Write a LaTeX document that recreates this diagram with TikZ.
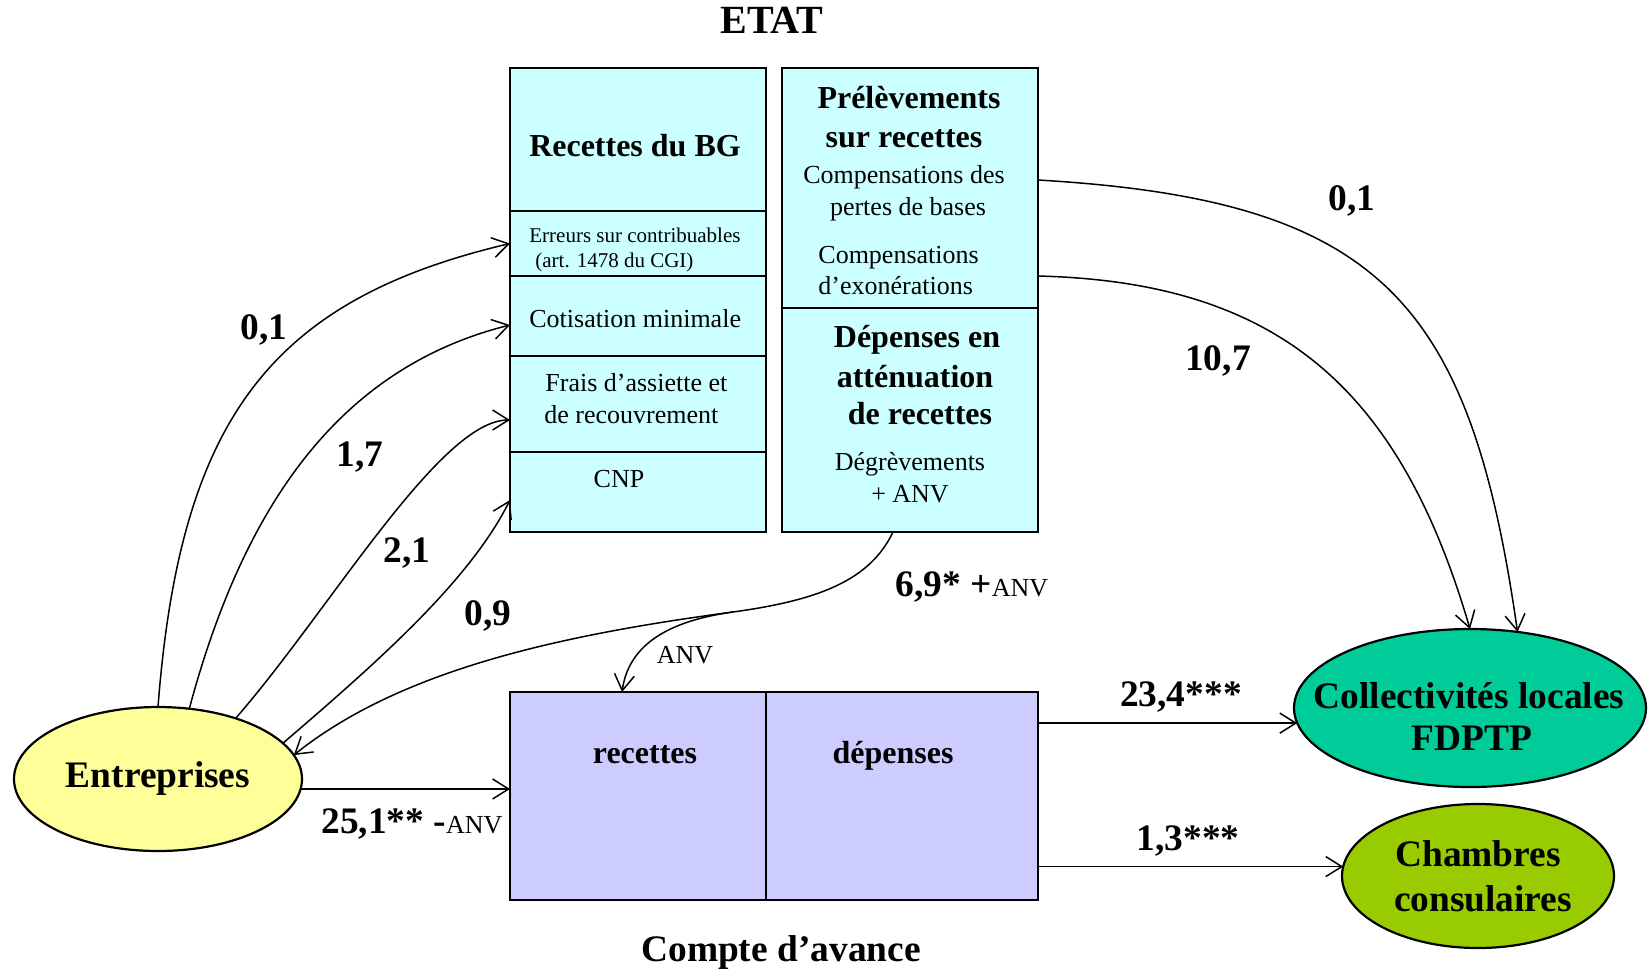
\documentclass[tikz,border=0pt]{standalone}
\usepackage{fontspec}
\setmainfont{Liberation Serif}
\usetikzlibrary{arrows.meta,shapes.geometric}
\definecolor{cyanbox}{HTML}{CCFFFF}
\definecolor{violetbox}{HTML}{CCCCFF}
\definecolor{entfill}{HTML}{FFFF99}
\definecolor{collfill}{HTML}{00CC99}
\definecolor{chamfill}{HTML}{99CC00}
\tikzset{
  boxc/.style={draw, line width=1.1pt, rectangle, anchor=north west, outer sep=0pt, inner sep=0pt},
  ell/.style={draw, line width=1.1pt, ellipse, inner sep=0pt, outer sep=0pt},
  bt/.style={font=\bfseries\fontsize{16}{19}\selectfont, anchor=base, inner sep=0pt},
  rt/.style={font=\fontsize{13}{15}\selectfont, anchor=base, inner sep=0pt},
  st/.style={font=\fontsize{10.5}{12}\selectfont, anchor=base west, inner sep=0pt},
  big/.style={font=\bfseries\fontsize{18.7}{22}\selectfont, anchor=base, inner sep=0pt},
  arr/.style={-{Straight Barb[length=8pt,width=10pt]}, line width=0.75pt},
}
\newcommand{\smallanv}{{\mdseries\fontsize{13}{15}\selectfont ANV}}
\begin{document}
\begin{tikzpicture}[x=0.5pt,y=-0.5pt]
\useasboundingbox (0,0) rectangle (1648,970);
% ETAT boxes
\node[boxc, fill=cyanbox, minimum width=128pt, minimum height=71.5pt] (bg1) at (510,68) {};
\node[boxc, fill=cyanbox, minimum width=128pt, minimum height=32.5pt] (bg2) at (510,211) {};
\node[boxc, fill=cyanbox, minimum width=128pt, minimum height=40pt] (bg3) at (510,276) {};
\node[boxc, fill=cyanbox, minimum width=128pt, minimum height=48pt] (bg4) at (510,356) {};
\node[boxc, fill=cyanbox, minimum width=128pt, minimum height=40pt] (bg5) at (510,452) {};
\node[boxc, fill=cyanbox, minimum width=128pt, minimum height=120pt] (psr) at (782,68) {};
\node[boxc, fill=cyanbox, minimum width=128pt, minimum height=112pt] (dar) at (782,308) {};
% Compte d'avance
\node[boxc, fill=violetbox, minimum width=128pt, minimum height=104pt] (rec) at (510,692) {};
\node[boxc, fill=violetbox, minimum width=136pt, minimum height=104pt] (dep) at (766,692) {};
% ellipses
\node[ell, fill=entfill, minimum width=144pt, minimum height=72pt] (ent) at (158,779) {};
\node[ell, fill=collfill, minimum width=176pt, minimum height=79pt] (coll) at (1470,708) {};
\node[ell, fill=chamfill, minimum width=136pt, minimum height=72pt] (cham) at (1478,876) {};
% texts
\node[big, font=\bfseries\fontsize{20}{24}\selectfont] (tetat) at (772,33) {ETAT};
\node[bt] (tbg) at (635,156) {Recettes du BG};
\node[st] (terr1) at (529,242) {Erreurs sur contribuables};
\node[st] (terr2) at (535,267) {(art. 1478 du CGI)};
\node[rt, anchor=base west] (tcot) at (529,327) {Cotisation minimale};
\node[rt, anchor=base west] (tfr1) at (545,391) {Frais d’assiette et};
\node[rt, anchor=base west] (tfr2) at (544,423) {de recouvrement};
\node[rt] (tcnp) at (619,487) {CNP};
\node[bt] (tpr1) at (909,108) {Prélèvements};
\node[bt] (tpr2) at (904,147) {sur recettes};
\node[rt] (tcp1) at (904,183) {Compensations des};
\node[rt] (tcp2) at (908,215) {pertes de bases};
\node[rt, anchor=base west] (tce1) at (818,263) {Compensations};
\node[rt, anchor=base west] (tce2) at (818,294) {d’exonérations};
\node[bt] (tde1) at (917,347) {Dépenses en};
\node[bt] (tde2) at (915,387) {atténuation};
\node[bt] (tde3) at (920,424) {de recettes};
\node[rt] (tdg1) at (910,470) {Dégrèvements};
\node[rt] (tdg2) at (910,502) {+ ANV};
\node[bt] (trec) at (645,763) {recettes};
\node[bt] (tdep) at (893,763) {dépenses};
\node[big] (tca) at (781,961) {Compte d’avance};
\node[big] (tent) at (158,787) {Entreprises};
\node[big] (tcol1) at (1469,708) {Collectivités locales};
\node[big] (tcol2) at (1472,750) {FDPTP};
\node[big] (tch1) at (1478,866) {Chambres};
\node[big] (tch2) at (1483,911) {consulaires};
% arrows
\draw[arr] (ent.north) .. controls (180,420) and (270,300) .. (bg2.west);
\draw[arr] (ent.66) .. controls (240,520) and (330,370) .. ([yshift=-4.5pt]bg3.west);
\draw[arr] (ent.38) .. controls (330,610) and (440,420) .. ([yshift=-8pt]bg4.west);
\draw[arr] (ent.16) .. controls (380,660) and (470,580) .. ([yshift=-4pt]bg5.west);
\coordinate (jn) at (733,612);
\draw[arr] ([xshift=-8.5pt]dar.south) .. controls (870,580) and (820,600) .. (jn) .. controls (560,635) and (400,670) .. (ent.10);
\draw[arr] (jn) .. controls (660,622) and (628,650) .. ([xshift=-8pt]rec.north);
\draw[arr] ([yshift=4pt]psr.east) .. controls (1380,200) and (1470,300) .. (coll.58);
\draw[arr] ([yshift=-44pt]psr.east) .. controls (1280,282) and (1400,390) .. (coll.north);
\draw[arr] (dep.east |- coll.185) -- (coll.185);
\draw[arr] (dep.east |- cham.176) -- (cham.176);
\draw[arr] (ent.-4) -- (ent.-4 -| rec.west);
% labels
\node[big] (l01a) at (264,339) {0,1};
\node[big] (l17) at (360,466) {1,7};
\node[big] (l21) at (407,562) {2,1};
\node[big] (l09) at (488,625) {0,9};
\node[big] (l01b) at (1352,210) {0,1};
\node[big] (l107) at (1218,370) {10,7};
\node[big] (l69) at (972,596) {6,9* +\smallanv};
\node[rt] (lanv) at (685,663) {ANV};
\node[big] (l234) at (1181,706) {23,4***};
\node[big] (l13) at (1188,850) {1,3***};
\node[big] (l251) at (412,833) {25,1** -\smallanv};
\end{tikzpicture}
\end{document}
